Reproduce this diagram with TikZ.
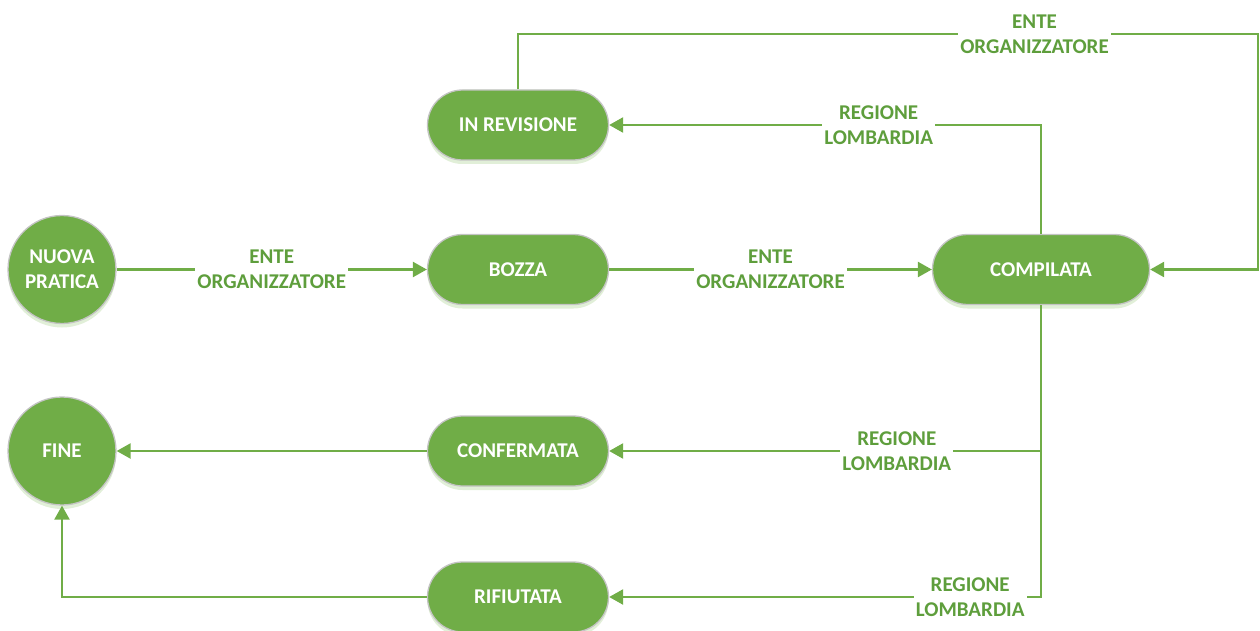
\documentclass[tikz,border=0pt]{standalone}
\usepackage{fontspec}
\setmainfont{Carlito}
\usetikzlibrary{arrows.meta,shapes.misc,shadows}
\definecolor{gfill}{HTML}{70AD47}
\definecolor{gtext}{HTML}{5E9E3C}
\definecolor{gborder}{HTML}{C4C4C4}
\definecolor{gshadow}{HTML}{A9D08E}
\begin{document}
\begin{tikzpicture}[x=1pt,y=-1pt,
  every node/.style={font=\fontsize{21}{25}\selectfont\bfseries},
  state/.style={fill=gfill,draw=gborder,line width=1.3pt,text=white,align=center,
    drop shadow={shadow xshift=0pt,shadow yshift=-4pt,opacity=0.35,fill=gshadow}},
  circ/.style={state,circle,minimum size=108pt,inner sep=0pt},
  stad/.style={state,rounded rectangle,minimum width=181pt,minimum height=70pt,inner sep=0pt},
  stadw/.style={state,rounded rectangle,minimum width=217pt,minimum height=70pt,inner sep=0pt},
  conn/.style={draw=gfill,line width=2.4pt,-{Triangle[length=14pt,width=15pt]}},
  lbl/.style={fill=white,text=gtext,align=center,inner sep=2pt,font=\fontsize{21}{25}\selectfont\bfseries}]
\useasboundingbox (0,0) rectangle (1260,631);
\node[circ] (nuova) at (62,269.5) {NUOVA\\PRATICA};
\node[circ] (fine) at (62,451) {FINE};
\node[stad] (rev) at (518,125) {IN REVISIONE};
\node[stad] (bozza) at (518,269.5) {BOZZA};
\node[stad] (conf) at (518,451) {CONFERMATA};
\node[stad] (rif) at (518,597) {RIFIUTATA};
\node[stadw] (comp) at (1041,269.5) {COMPILATA};
\coordinate (tr) at (1258,34);
\draw[conn] (nuova.east) -- node[lbl] {ENTE\\ORGANIZZATORE} (bozza.west);
\draw[conn] (bozza.east) -- node[lbl] {ENTE\\ORGANIZZATORE} (comp.west);
\draw[conn] (comp.north) |- node[lbl,pos=0.688] {REGIONE\\LOMBARDIA} (rev.east);
\draw[conn] (rev.north) |- node[lbl,pos=0.849] {ENTE\\ORGANIZZATORE} (tr) |- (comp.east);
\draw[conn] (comp.south) |- node[lbl,pos=0.667] {REGIONE\\LOMBARDIA} (conf.east);
\draw[conn] (comp.south) |- node[lbl,pos=0.582] {REGIONE\\LOMBARDIA} (rif.east);
\draw[conn] (conf.west) -- (fine.east);
\draw[conn] (rif.west) -| (fine.south);
\end{tikzpicture}
\end{document}
